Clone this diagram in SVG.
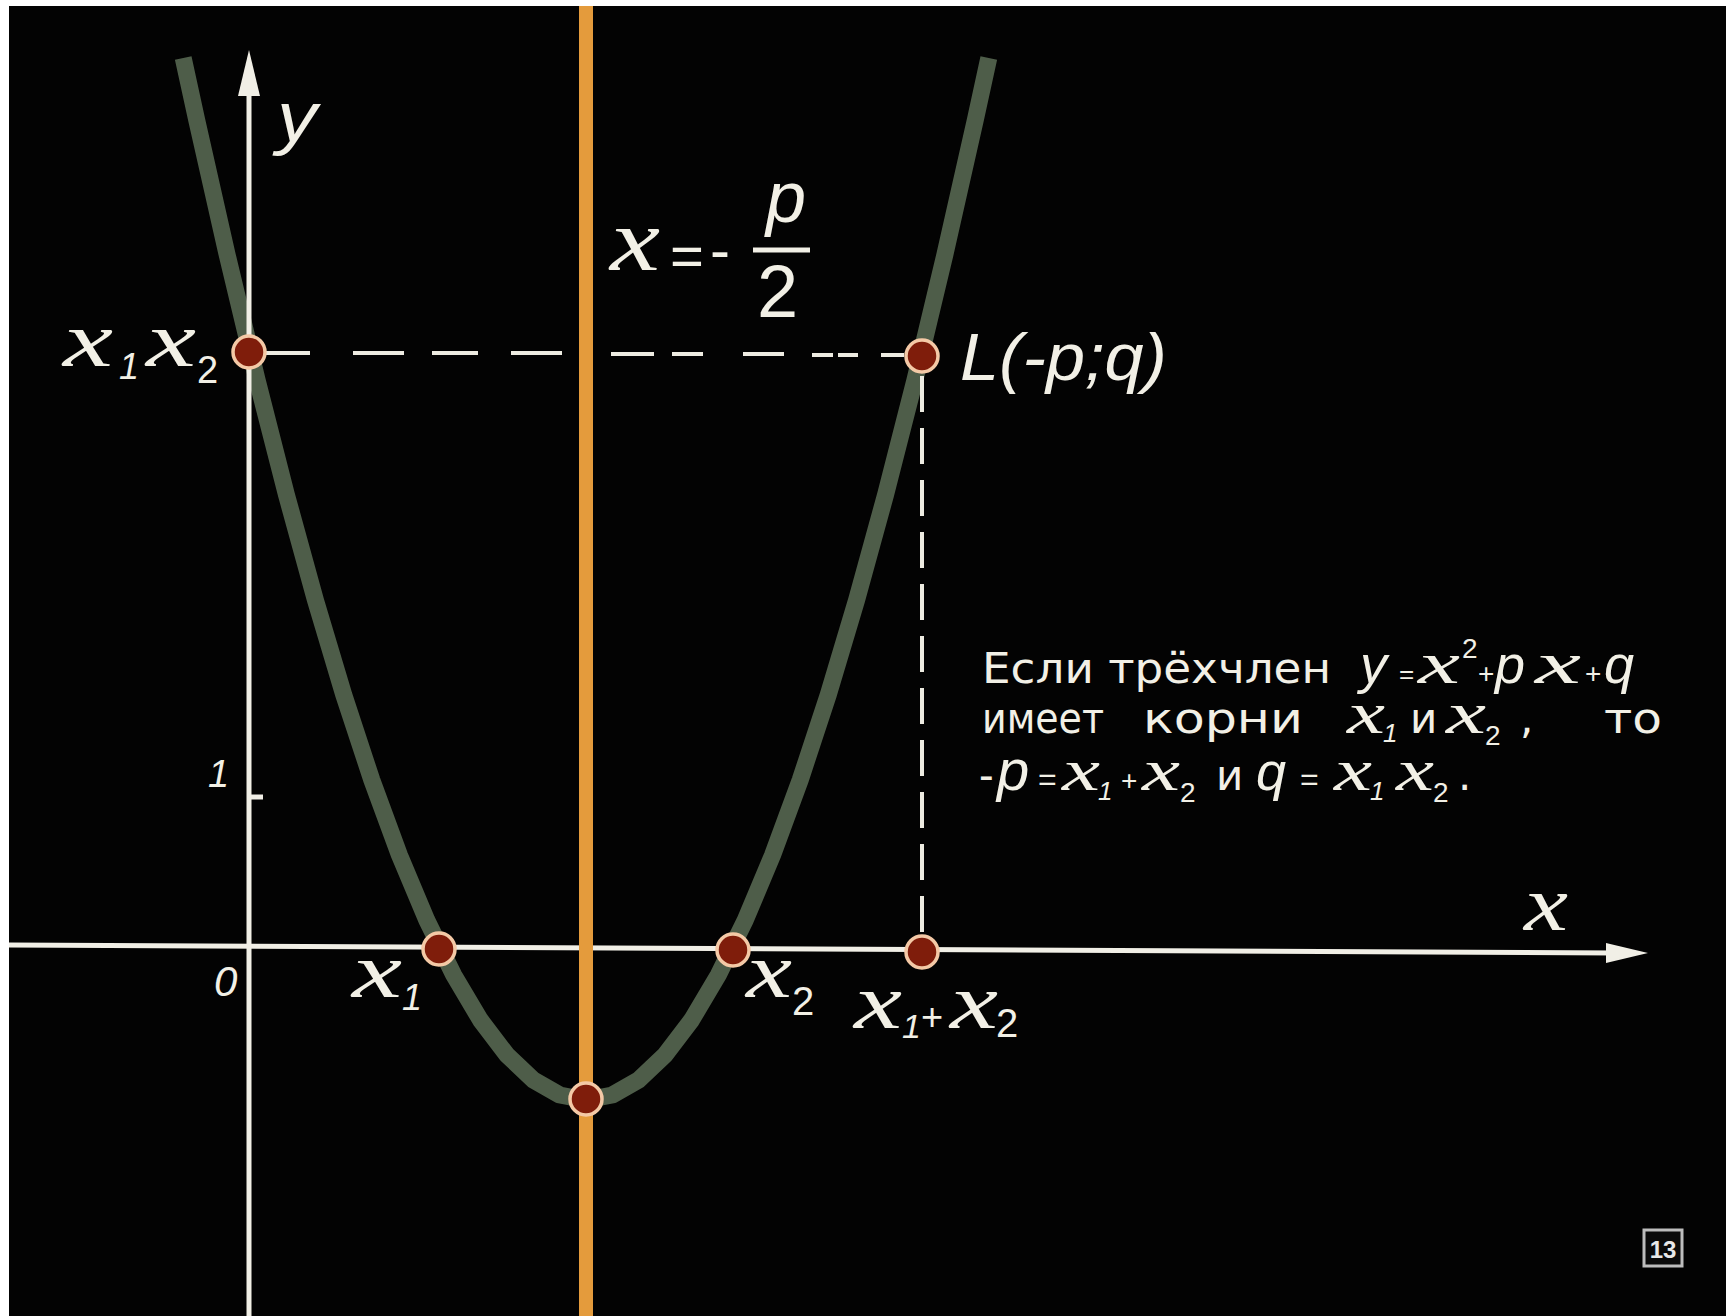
<svg xmlns="http://www.w3.org/2000/svg" width="1726" height="1316" viewBox="0 0 1726 1316">
<defs>
<style>
.ax{stroke:#f1efe6;stroke-width:5;fill:none}
.ah{fill:#f1efe6}
.dash{stroke:#eeece2;stroke-width:4;fill:none}
.pt{fill:#7f1d0b;stroke:#f4c9a6;stroke-width:3.5}
.mx{font-family:"Liberation Serif","DejaVu Serif",serif;font-style:italic;fill:#f2f0e6}
.ms{font-family:"Liberation Sans","DejaVu Sans",sans-serif;font-style:italic;fill:#f2f0e6}
.su{font-family:"Liberation Sans","DejaVu Sans",sans-serif;fill:#f2f0e6}
.t{font-family:"DejaVu Sans","Liberation Sans",sans-serif;fill:#f2f0e6;font-size:42px}
</style>
</defs>
<rect x="0" y="0" width="1726" height="1316" fill="#ffffff"/>
<rect x="9" y="6" width="1717" height="1310" fill="#030303"/>

<g id="parabola">
<polyline fill="none" stroke="#4e5d49" stroke-width="17" stroke-linejoin="round" points="183.2,58 196.7,120 227.2,255 257.1,380 286.5,495 315.4,600 343.8,695 371.8,780 399.4,855 426.7,920 453.7,975 480.4,1020 507,1055 533.4,1080 559.7,1095 586,1100 612.3,1095 638.6,1080 665,1055 691.6,1020 718.3,975 745.3,920 772.6,855 800.2,780 828.2,695 856.6,600 885.5,495 914.9,380 944.8,255 975.3,120 988.8,58"/>
</g>

<g id="connectors">
<line id="x-axis" class="ax" x1="9" y1="945" x2="1615" y2="953"/>
<polygon class="ah" points="1648,953 1606,943 1606,963"/>
<line id="y-axis" class="ax" x1="249" y1="1316" x2="249" y2="90"/>
<polygon class="ah" points="249,50 238,96 260,96"/>
<line class="ax" x1="249" y1="797" x2="263" y2="797" stroke-width="3"/>
<path class="dash" d="M266 353H310M353 353H404M432 353H478M511 353H562M611 354H654M672 354H703M743 354H784M812 355H833M838 355H858M881 355H904"/>
<line class="dash" x1="922" y1="376" x2="922" y2="935" stroke-dasharray="36 16"/>
<line id="axis-of-symmetry" x1="586" y1="6" x2="586" y2="1316" stroke="#e49b3c" stroke-width="14"/>
</g>

<g id="axis-labels">
<text class="ms" x="277" y="141" font-size="70" textLength="40" lengthAdjust="spacingAndGlyphs">y</text>
<text class="mx" x="1524" y="930" font-size="78" textLength="44" lengthAdjust="spacingAndGlyphs">x</text>
<text class="ms" x="214" y="996" font-size="42">0</text>
<text class="ms" x="208" y="787" font-size="38">1</text>
</g>

<g id="label-symmetry">
<text class="mx" x="610" y="270" font-size="88" textLength="50" lengthAdjust="spacingAndGlyphs">x</text>
<text class="su" x="670" y="276" font-size="58">=</text>
<text class="su" x="710" y="270" font-size="60">-</text>
<line x1="753" y1="250" x2="810" y2="250" stroke="#f2f0e6" stroke-width="5"/>
<text class="ms" x="766" y="222" font-size="72">p</text>
<text class="su" x="757" y="317" font-size="74">2</text>
</g>

<g id="node-x1x2">
<circle class="pt" cx="249" cy="352" r="16"/>
<text class="mx" x="63" y="366" font-size="78" textLength="50" lengthAdjust="spacingAndGlyphs">x</text>
<text class="ms" x="119" y="379" font-size="36">1</text>
<text class="mx" x="146" y="366" font-size="78" textLength="50" lengthAdjust="spacingAndGlyphs">x</text>
<text class="su" x="197" y="383" font-size="38">2</text>
</g>

<g id="node-L">
<circle class="pt" cx="922" cy="356" r="16"/>
<text class="ms" x="960" y="380" font-size="66" textLength="207" lengthAdjust="spacingAndGlyphs">L(-p;q)</text>
</g>

<g id="node-x1">
<circle class="pt" cx="439" cy="949" r="16"/>
<text class="mx" x="352" y="997" font-size="78" textLength="50" lengthAdjust="spacingAndGlyphs">x</text>
<text class="ms" x="402" y="1010" font-size="36">1</text>
</g>

<g id="node-x2">
<circle class="pt" cx="733" cy="950" r="16"/>
<text class="mx" x="746" y="997" font-size="78" textLength="46" lengthAdjust="spacingAndGlyphs">x</text>
<text class="su" x="792" y="1015" font-size="40">2</text>
</g>

<g id="node-sum">
<circle class="pt" cx="922" cy="952" r="16"/>
<text class="mx" x="854" y="1028" font-size="78" textLength="48" lengthAdjust="spacingAndGlyphs">x</text>
<text class="ms" x="902" y="1038" font-size="34">1</text>
<text class="su" x="921" y="1030" font-size="38">+</text>
<text class="mx" x="950" y="1028" font-size="78" textLength="48" lengthAdjust="spacingAndGlyphs">x</text>
<text class="su" x="996" y="1037" font-size="40">2</text>
</g>

<g id="node-vertex">
<circle class="pt" cx="586" cy="1099" r="16"/>
</g>

<g id="statement">
<text class="t" x="982" y="683" textLength="349" lengthAdjust="spacingAndGlyphs">Если трёхчлен</text>
<text class="ms" x="1360" y="683" font-size="54">y</text>
<text class="su" x="1399" y="683" font-size="26">=</text>
<text class="mx" x="1418" y="683" font-size="60" textLength="42" lengthAdjust="spacingAndGlyphs">x</text>
<text class="su" x="1462" y="658" font-size="28">2</text>
<text class="su" x="1478" y="683" font-size="28">+</text>
<text class="ms" x="1495" y="683" font-size="54">p</text>
<text class="mx" x="1535" y="683" font-size="60" textLength="46" lengthAdjust="spacingAndGlyphs">x</text>
<text class="su" x="1585" y="683" font-size="28">+</text>
<text class="ms" x="1604" y="683" font-size="54">q</text>

<text class="t" x="982" y="733" textLength="122" lengthAdjust="spacingAndGlyphs">имеет</text>
<text class="t" x="1143" y="733" textLength="160" lengthAdjust="spacingAndGlyphs">корни</text>
<text class="mx" x="1347" y="733" font-size="60" textLength="38" lengthAdjust="spacingAndGlyphs">x</text>
<text class="ms" x="1383" y="742" font-size="26">1</text>
<text class="t" x="1410" y="733">и</text>
<text class="mx" x="1446" y="733" font-size="60" textLength="40" lengthAdjust="spacingAndGlyphs">x</text>
<text class="su" x="1485" y="745" font-size="28">2</text>
<text class="t" x="1520" y="733">,</text>
<text class="t" x="1604" y="733" textLength="58" lengthAdjust="spacingAndGlyphs">то</text>

<text class="su" x="979" y="790" font-size="44">-</text>
<text class="ms" x="997" y="790" font-size="58">p</text>
<text class="su" x="1038" y="790" font-size="32">=</text>
<text class="mx" x="1062" y="790" font-size="60" textLength="38" lengthAdjust="spacingAndGlyphs">x</text>
<text class="ms" x="1098" y="800" font-size="26">1</text>
<text class="su" x="1121" y="790" font-size="28">+</text>
<text class="mx" x="1142" y="790" font-size="60" textLength="38" lengthAdjust="spacingAndGlyphs">x</text>
<text class="su" x="1180" y="802" font-size="28">2</text>
<text class="t" x="1216" y="790">и</text>
<text class="ms" x="1256" y="790" font-size="54">q</text>
<text class="su" x="1300" y="790" font-size="32">=</text>
<text class="mx" x="1334" y="790" font-size="60" textLength="38" lengthAdjust="spacingAndGlyphs">x</text>
<text class="ms" x="1370" y="800" font-size="26">1</text>
<text class="mx" x="1396" y="790" font-size="60" textLength="38" lengthAdjust="spacingAndGlyphs">x</text>
<text class="su" x="1433" y="802" font-size="28">2</text>
<text class="t" x="1458" y="790">.</text>
</g>

<g id="page-number">
<rect x="1644" y="1230" width="38" height="36" fill="#0b0b0b" stroke="#bdbdbd" stroke-width="3"/>
<text x="1663" y="1258" font-family="Liberation Sans, sans-serif" font-weight="bold" font-size="24" fill="#e8e8e8" text-anchor="middle">13</text>
</g>
</svg>
